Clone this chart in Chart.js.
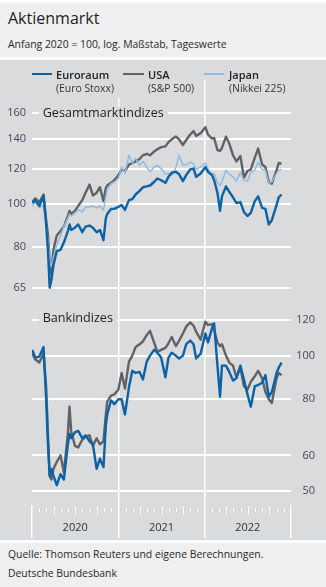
<!DOCTYPE html>
<html lang="de">
<head>
<meta charset="utf-8">
<title>Aktienmarkt</title>
<script src="https://cdn.jsdelivr.net/npm/chart.js@4.4.1/dist/chart.umd.min.js"></script>
<style>
  html, body { margin: 0; padding: 0; }
  body { width: 326px; height: 587px; position: relative; overflow: hidden; background: #fff;
         font-family: 'Open Sans', sans-serif; color: #222; }
  .head  { position: absolute; left: 0; top: 3px; width: 326px; height: 54px; background: #efefef; }
  .panel { position: absolute; left: 0; top: 60px; width: 326px; height: 480px; background: #dadbdd; }
  .foot  { position: absolute; left: 0; top: 543px; width: 326px; height: 44px; background: #efefef; }
  #chart { position: absolute; left: 0; top: 60px; }
  .t { position: absolute; white-space: nowrap; }
  .title { left: 8px; top: 10px; font-size: 16px; line-height: 16px; color: #1e1e1e; }
  .sub   { left: 8px; top: 39.1px; font-size: 10.4px; line-height: 10.4px; color: #2a2a2a; }
  .cover { position: absolute; left: 30px; top: 62px; width: 167px; height: 36px; background: #dadbdd; }
  .lg  { font-size: 11px; line-height: 11px; font-weight: 600; top: 69.2px; color: #222; }
  .lg2 { font-size: 10.4px; line-height: 10.4px; top: 82.8px; color: #333; }
  .sw  { position: absolute; top: 72.8px; height: 2.5px; }
  .panelLbl { font-size: 12.6px; line-height: 12.6px; padding: 0 4px; background: #dadbdd; color: #222; }
  .src { left: 8px; font-size: 10.4px; line-height: 10.4px; color: #2a2a2a; }
</style>
</head>
<body>
<div class="head"></div>
<div class="panel"></div>
<div class="foot"></div>

<div class="t title">Aktienmarkt</div>
<div class="t sub">Anfang 2020 = 100, log. Maßstab, Tageswerte</div>

<canvas id="chart" width="326" height="480"></canvas>

<div class="cover"></div>
<div class="sw" style="left:32px;width:20px;background:#0b62a4"></div>
<div class="t lg" style="left:56px">Euroraum</div>
<div class="t lg2" style="left:56px">(Euro Stoxx)</div>
<div class="sw" style="left:123px;width:21px;background:#626266"></div>
<div class="t lg" style="left:148px">USA</div>
<div class="t lg2" style="left:148px">(S&amp;P 500)</div>
<div class="sw" style="left:204px;width:20px;height:2px;background:#90bbe0"></div>
<div class="t lg" style="left:229px">Japan</div>
<div class="t lg2" style="left:229px">(Nikkei 225)</div>

<div class="t panelLbl" style="left:38.7px;top:107.1px">Gesamtmarktindizes</div>
<div class="t panelLbl" style="left:38.7px;top:312.1px">Bankindizes</div>

<div class="t src" style="top:548.8px">Quelle: Thomson Reuters und eigene Berechnungen.</div>
<div class="t src" style="top:567.8px">Deutsche Bundesbank</div>

<script>
// Stichtage (etwa halbmonatlich)
const dates = [
  '2020-01-02','2020-01-15','2020-02-01','2020-02-19','2020-03-01','2020-03-09','2020-03-16','2020-03-23',
  '2020-04-01','2020-04-15','2020-05-01','2020-05-15','2020-06-01','2020-06-08','2020-06-15','2020-07-01',
  '2020-07-15','2020-08-01','2020-08-15','2020-09-01','2020-09-15','2020-10-01','2020-10-15','2020-10-30',
  '2020-11-09','2020-11-15','2020-12-01','2020-12-15',
  '2021-01-01','2021-01-15','2021-01-29','2021-02-15','2021-03-01','2021-03-15','2021-04-01','2021-04-15',
  '2021-05-01','2021-05-15','2021-06-01','2021-06-15','2021-07-01','2021-07-19','2021-08-01','2021-08-15',
  '2021-09-01','2021-09-15','2021-10-01','2021-10-15','2021-11-01','2021-11-15','2021-11-26','2021-12-15',
  '2022-01-04','2022-01-15','2022-02-01','2022-02-10','2022-02-24','2022-03-07','2022-03-15','2022-04-01',
  '2022-04-15','2022-05-01','2022-05-15','2022-06-01','2022-06-16','2022-07-01','2022-07-15','2022-08-01',
  '2022-08-15','2022-09-01','2022-09-15','2022-09-29','2022-10-12','2022-11-01','2022-11-10','2022-11-22'
];

// Gesamtmarktindizes
const euroStoxx = [
  100.5, 102, 99, 104, 90, 78, 65, 67.5, 73, 78.5, 79, 82, 87, 90, 87.5, 88.5, 90, 86.5, 89, 89.5, 88.5, 86.5, 87.5, 83, 93, 95, 97.5, 97.5,
  98.5, 99.5, 97, 102, 102.5, 105, 107, 109, 109.5, 110, 112, 114, 113, 111.5, 115, 117.5, 118, 116.5, 112.5, 116, 119.5, 120, 115, 117,
  121, 118, 116, 113, 106, 96.5, 104, 109.5, 106.5, 103.5, 100.5, 101, 96, 94, 95.5, 101.5, 104, 98, 97.5, 90, 92, 99.5, 103.5, 105
];
const sp500 = [
  101, 103, 101, 105, 92, 85, 74, 69.5, 79, 85, 87, 89, 94, 96.5, 95, 96.5, 99, 102, 106, 110.5, 104.5, 106, 109, 101.5, 108.5, 110, 111.5, 113,
  116, 119.5, 118.5, 122.5, 123.5, 124.5, 126, 128.5, 129.5, 128.5, 131, 132.5, 134, 134.5, 137.5, 139.5, 141.5, 139.5, 135.5, 139, 143, 145.5, 142, 144,
  148.5, 143, 140, 140.5, 132, 131.5, 133.5, 141.5, 136.5, 128.5, 124.5, 128, 114.5, 118.5, 119.5, 127, 133, 122.5, 121, 112, 111, 119, 123.5, 123
];
const nikkei = [
  99, 101, 98, 99.5, 89, 83, 74.5, 72.5, 76, 81, 85, 89, 93, 95, 94, 95.5, 97, 96, 98.5, 98.5, 99, 98, 99, 97, 104, 108, 111, 112,
  114, 121, 117, 128.5, 123.5, 126.5, 122, 124.5, 121, 118, 121, 122, 120, 116.5, 117, 116, 120.5, 128.5, 122, 122.5, 124, 123, 119.5, 121,
  123.5, 120, 116.5, 117, 111.5, 110, 112, 119, 116.5, 115, 112.5, 117.5, 113, 112.5, 117.5, 119, 124, 119.5, 119, 111, 112, 117, 119, 119.5
];

// Bankindizes
const euroBanks = [
  103, 99, 99.5, 104.5, 80, 63, 54, 56, 54, 51.5, 54.5, 53, 63.5, 67, 65.5, 67.5, 68, 65.5, 66.5, 64.5, 63.5, 56, 59, 56.5, 70, 74, 79.5, 78,
  80, 80, 74, 85, 92.5, 91.5, 92, 88.5, 97, 100, 103, 101.5, 99, 89.5, 99, 101.5, 100, 98.5, 100, 106, 108, 106, 98.5, 101,
  112, 107, 115, 118, 95, 81, 95, 95, 92, 88, 89, 95, 88.5, 82, 77, 85.5, 86, 87, 90.5, 81, 83, 91.5, 94, 96.5
];
const usBanks = [
  101, 98, 96.5, 101, 85, 66, 54, 53, 56, 58, 60, 55, 67, 77, 68, 63, 62.5, 65, 66, 66.5, 63, 65.5, 63.5, 64.5, 74, 79, 81.5, 82,
  84, 91.5, 84.5, 97, 100, 104.5, 106, 107.5, 111, 113.5, 107, 102, 103, 104, 106.5, 110, 105, 108, 112, 116, 118.5, 116.5, 113, 108.5,
  119, 117, 117.5, 114, 107, 105, 106, 100, 96.5, 95, 89.5, 94, 85.5, 84, 87.5, 90, 92.5, 89, 83, 80, 78.5, 89, 91.5, 90.5
];

const leftTicks  = [65, 80, 100, 120, 140, 160];
const rightTicks = [50, 60, 80, 100, 120];
const years = [2020, 2021, 2022];

const tickColor = '#45465a';

// Datum -> Jahr als Dezimalzahl
function toYear(s) {
  const [y, m, d] = s.split('-').map(Number);
  const start = Date.UTC(y, 0, 1), end = Date.UTC(y + 1, 0, 1);
  return y + (Date.UTC(y, m - 1, d) - start) / (end - start);
}

function series(label, values, axis, color, width, order) {
  return {
    label, yAxisID: axis, order,
    data: dates.map((d, i) => ({ x: toYear(d), y: values[i] })),
    borderColor: color, borderWidth: width, borderJoinStyle: 'round',
    pointRadius: 0, tension: 0, fill: false
  };
}

// kleine Monatsstriche unter der Zeitachse
const monthTicks = {
  id: 'monthTicks',
  afterDraw(chart) {
    const { ctx, chartArea, scales: { x } } = chart;
    ctx.save();
    ctx.strokeStyle = '#fff';
    ctx.lineWidth = 1;
    years.forEach(yr => {
      for (let m = 1; m < 12; m++) {
        const px = Math.round(x.getPixelForValue(yr + m / 12)) + 0.5;
        const top = chartArea.bottom + (m % 3 === 0 ? 2 : 3);
        const len = m % 3 === 0 ? 8 : 4;
        ctx.beginPath();
        ctx.moveTo(px, top);
        ctx.lineTo(px, top + len);
        ctx.stroke();
      }
    });
    ctx.restore();
  }
};

Chart.defaults.font.family = "'Open Sans', sans-serif";

const xTicks = [];
years.forEach(y => xTicks.push(y, y + 0.5));
xTicks.push(2023);

new Chart(document.getElementById('chart'), {
  type: 'line',
  data: {
    datasets: [
      series('Euroraum (Euro Stoxx)', euroStoxx, 'y', '#0b62a4', 2.4, 0),
      series('Japan (Nikkei 225)', nikkei, 'y', '#90bbe0', 1.5, 1),
      series('USA (S&P 500)', sp500, 'y', '#626266', 2.4, 2),
      series('Euroraum Banken', euroBanks, 'y2', '#0b62a4', 2.4, 3),
      series('USA Banken', usBanks, 'y2', '#626266', 2.4, 4)
    ]
  },
  options: {
    responsive: false,
    animation: false,
    devicePixelRatio: 1,
    layout: { padding: { top: 20, left: 0, right: 11, bottom: 0 } },
    plugins: { legend: { display: false }, tooltip: { enabled: false } },
    scales: {
      x: {
        type: 'linear', min: 2020, max: 2023, bounds: 'data',
        afterBuildTicks: s => { s.ticks = xTicks.map(v => ({ value: v })); },
        afterFit: s => { s.height = 35; },
        grid: {
          color: c => (c.tick && (c.tick.value === 2021 || c.tick.value === 2022)) ? '#fff' : 'rgba(0,0,0,0)',
          tickColor: c => (c.tick && Number.isInteger(c.tick.value)) ? '#fff' : 'rgba(0,0,0,0)',
          lineWidth: 1.5, tickWidth: 1.5, tickLength: 33
        },
        border: { display: false },
        ticks: {
          autoSkip: false, maxRotation: 0, padding: -17,
          color: '#333', font: { size: 11 },
          callback: v => Number.isInteger(v) ? '' : String(Math.floor(v))
        }
      },
      y: {
        type: 'logarithmic', position: 'left', min: 21.24, max: 189.3, bounds: 'data',
        afterBuildTicks: s => { s.ticks = leftTicks.map(v => ({ value: v })); },
        afterFit: s => { s.width = 32; },
        grid: { color: '#fff', lineWidth: 2, drawTicks: false },
        border: { display: false },
        ticks: { padding: 6, crossAlign: 'near', color: tickColor, font: { size: 11 }, callback: v => String(v) }
      },
      y2: {
        type: 'logarithmic', position: 'right', min: 46.54, max: 410, bounds: 'data',
        afterBuildTicks: s => { s.ticks = rightTicks.map(v => ({ value: v })); },
        afterFit: s => { s.width = 24; },
        grid: { color: '#fff', lineWidth: 2, drawTicks: false },
        border: { display: false },
        ticks: { padding: 4, crossAlign: 'far', color: tickColor, font: { size: 11 }, callback: v => String(v) }
      }
    }
  },
  plugins: [monthTicks]
});
</script>
</body>
</html>
